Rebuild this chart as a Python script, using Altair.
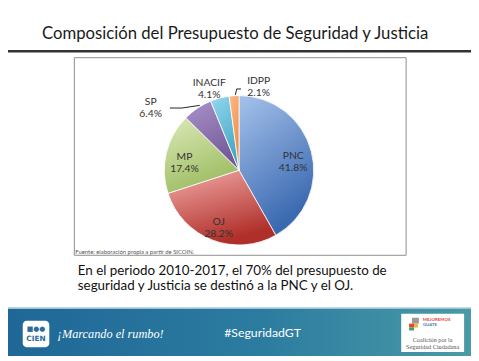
import math
import altair as alt
import pandas as pd

# ---- data ----
categories = ["PNC", "OJ", "MP", "SP", "INACIF", "IDPP"]
shares = [41.8, 28.2, 17.4, 6.4, 4.1, 2.1]
order = [0, 1, 2, 3, 4, 5]

title_text = "Composición del Presupuesto de Seguridad y Justicia"
source_text = "Fuente: elaboración propia a partir de SICOIN."
note_lines = [
    "En el periodo 2010-2017,  el 70% del presupuesto de",
    "seguridad y Justicia se destinó a la PNC y el OJ.",
]
hashtag = "#SeguridadGT"
slogan = "¡Marcando el rumbo!"

# ---- styles ----
slice_grad = {
    "PNC": ("#A6C2EB", "#3A69B0"),
    "OJ": ("#F3ACA9", "#B02F2A"),
    "MP": ("#DCE9B9", "#9DBD62"),
    "SP": ("#A993C8", "#75599A"),
    "INACIF": ("#93D8EE", "#45A6C4"),
    "IDPP": ("#FBBA8A", "#F08A3A"),
}
W, H = 471, 353
CX, CY, R = 235, 162, 76
FONT = "Lato"

df = pd.DataFrame({"cat": categories, "share": shares, "order": order})
total = sum(shares)
theta_scale = alt.Scale(domain=[0, total], range=[0, 2 * math.pi])

one = pd.DataFrame({"k": [0]})


def deco():
    return alt.Chart(one)


base = (
    alt.Chart(df)
    .transform_window(cum="sum(share)", sort=[{"field": "order"}], frame=[None, 0])
    .transform_calculate(
        start="datum.cum - datum.share",
        mid="datum.cum - datum.share / 2",
        label="[datum.cat, format(datum.share, '.1f') + '%']",
    )
)

layers = []

# title and rule
layers.append(
    deco().mark_text(text=title_text, font=FONT, fontSize=17, color="#1a1a1a",
                     align="center", baseline="alphabetic")
    .encode(x=alt.value(231), y=alt.value(28))
)
layers.append(
    deco().mark_rule(color="#333333", strokeWidth=2.5)
    .encode(x=alt.value(0), x2=alt.value(W), y=alt.value(41))
)

# chart box
layers.append(
    deco().mark_rect(fill="white", stroke="#8c8c8c", strokeWidth=1)
    .encode(x=alt.value(67.5), x2=alt.value(405), y=alt.value(47.5), y2=alt.value(248.5))
)

# pie slices with gradients
for c in categories:
    top, bot = slice_grad[c]
    grad = alt.Gradient(
        gradient="linear",
        stops=[alt.GradientStop(color=top, offset=0), alt.GradientStop(color=bot, offset=1)],
        x1=0, y1=0, x2=0.4, y2=1,
    )
    layers.append(
        base.transform_filter(alt.datum.cat == c)
        .mark_arc(outerRadius=R, fill=grad, stroke="white", strokeWidth=0.8)
        .encode(
            theta=alt.Theta("start:Q", scale=theta_scale, stack=None),
            theta2="cum:Q",
            x=alt.value(CX),
            y=alt.value(CY),
        )
    )

# inside labels
layers.append(
    base.transform_filter(alt.FieldOneOfPredicate(field="cat", oneOf=["PNC", "OJ", "MP"]))
    .mark_text(radius=57, font=FONT, fontSize=10.5, color="#333333", lineHeight=12,
               align="center", baseline="middle")
    .encode(
        theta=alt.Theta("mid:Q", scale=theta_scale, stack=None),
        text="label:N",
        x=alt.value(CX),
        y=alt.value(CY),
    )
)

# outside labels
for c, dx, dy in [("SP", -38.6, 6.8), ("INACIF", -6.6, 0.5), ("IDPP", 26.1, 0.8)]:
    layers.append(
        base.transform_filter(alt.datum.cat == c)
        .mark_text(radius=92, dx=dx, dy=dy, font=FONT, fontSize=10.5, color="#333333",
                   lineHeight=12, align="center", baseline="middle")
        .encode(
            theta=alt.Theta("mid:Q", scale=theta_scale, stack=None),
            text="label:N",
            x=alt.value(CX),
            y=alt.value(CY),
        )
    )

# leader lines
for (x1, y1, x2, y2) in [
    (164.7, 98.7, 177, 98.7),
    (177, 98.7, 195, 96),
    (231.3, 85.3, 232.7, 79.3),
    (232.7, 79.3, 237, 79.3),
]:
    layers.append(
        deco().mark_rule(color="#222222", strokeWidth=1)
        .encode(x=alt.value(x1), y=alt.value(y1), x2=alt.value(x2), y2=alt.value(y2))
    )

# source
layers.append(
    deco().mark_text(text=source_text, font=FONT, fontSize=6, color="#555555",
                     align="left", baseline="middle")
    .encode(x=alt.value(68.5), y=alt.value(245))
)

# note (one two-line text)
layers.append(
    deco().mark_text(text=note_lines, font=FONT, fontSize=13.6, color="#111111",
                     lineHeight=15.5, align="left", baseline="alphabetic")
    .encode(x=alt.value(71), y=alt.value(268.5))
)

# footer band
footer_grad = alt.Gradient(
    gradient="linear",
    stops=[
        alt.GradientStop(color="#1E6697", offset=0),
        alt.GradientStop(color="#2C7CA0", offset=0.55),
        alt.GradientStop(color="#4B9CA6", offset=1),
    ],
    x1=0, y1=0, x2=1, y2=0,
)
layers.append(
    deco().mark_rect(fill=footer_grad)
    .encode(x=alt.value(-10), x2=alt.value(W + 10), y=alt.value(302), y2=alt.value(351))
)
layers.append(
    deco().mark_rule(color="#9CC2D6", strokeWidth=1.2)
    .encode(x=alt.value(0), x2=alt.value(W), y=alt.value(302.5))
)

# CIEN logo
layers.append(
    deco().mark_rect(fill="white", cornerRadius=4)
    .encode(x=alt.value(15), x2=alt.value(42), y=alt.value(315), y2=alt.value(342))
)
layers.append(
    deco().mark_text(text="■●●", font="DejaVu Sans", fontSize=7, color="#2A6C9A",
                     align="center", baseline="middle")
    .encode(x=alt.value(28.5), y=alt.value(323.5))
)
layers.append(
    deco().mark_text(text="CIEN", font="DejaVu Sans", fontWeight="bold", fontSize=7.5,
                     color="#2A6C9A", align="center", baseline="middle")
    .encode(x=alt.value(28.5), y=alt.value(333.5))
)
layers.append(
    deco().mark_text(text=slogan, font="Liberation Serif", fontStyle="italic", fontSize=12.5,
                     color="white", align="left", baseline="middle")
    .encode(x=alt.value(50), y=alt.value(329))
)
layers.append(
    deco().mark_text(text=hashtag, font=FONT, fontSize=12.5, color="white",
                     align="center", baseline="middle")
    .encode(x=alt.value(259), y=alt.value(328))
)

# right logo
layers.append(
    deco().mark_rect(fill="white")
    .encode(x=alt.value(400), x2=alt.value(464), y=alt.value(308), y2=alt.value(347))
)
for (x1, y1, x2, y2, col) in [
    (411, 312, 418, 318, "#9a9a9a"),
    (408, 318, 413, 322, "#E9443A"),
    (413, 318, 417, 322, "#F2B233"),
    (408, 322, 413, 325, "#3CA55C"),
]:
    layers.append(
        deco().mark_rect(fill=col)
        .encode(x=alt.value(x1), x2=alt.value(x2), y=alt.value(y1), y2=alt.value(y2))
    )
layers.append(
    deco().mark_text(text="MEJOREMOS", font=FONT, fontWeight="bold", fontSize=4.5,
                     color="#D9453A", align="left", baseline="middle")
    .encode(x=alt.value(422), y=alt.value(314.5))
)
layers.append(
    deco().mark_text(text="GUATE", font=FONT, fontWeight="bold", fontSize=4.5,
                     color="#4A7FB8", align="left", baseline="middle")
    .encode(x=alt.value(422), y=alt.value(319.5))
)
layers.append(
    deco().mark_text(text="Coalición por la", font="Liberation Serif", fontSize=6.3,
                     color="#555555", align="center", baseline="middle")
    .encode(x=alt.value(432), y=alt.value(334.5))
)
layers.append(
    deco().mark_text(text="Seguridad Ciudadana", font="Liberation Serif", fontSize=6.3,
                     color="#555555", align="center", baseline="middle")
    .encode(x=alt.value(432), y=alt.value(342))
)

chart = (
    alt.layer(*layers)
    .properties(width=W, height=H, autosize="none", padding=0, background="white")
    .configure_view(strokeWidth=0)
)

chart.save("out.html", embed_options={"renderer": "svg", "actions": False})
